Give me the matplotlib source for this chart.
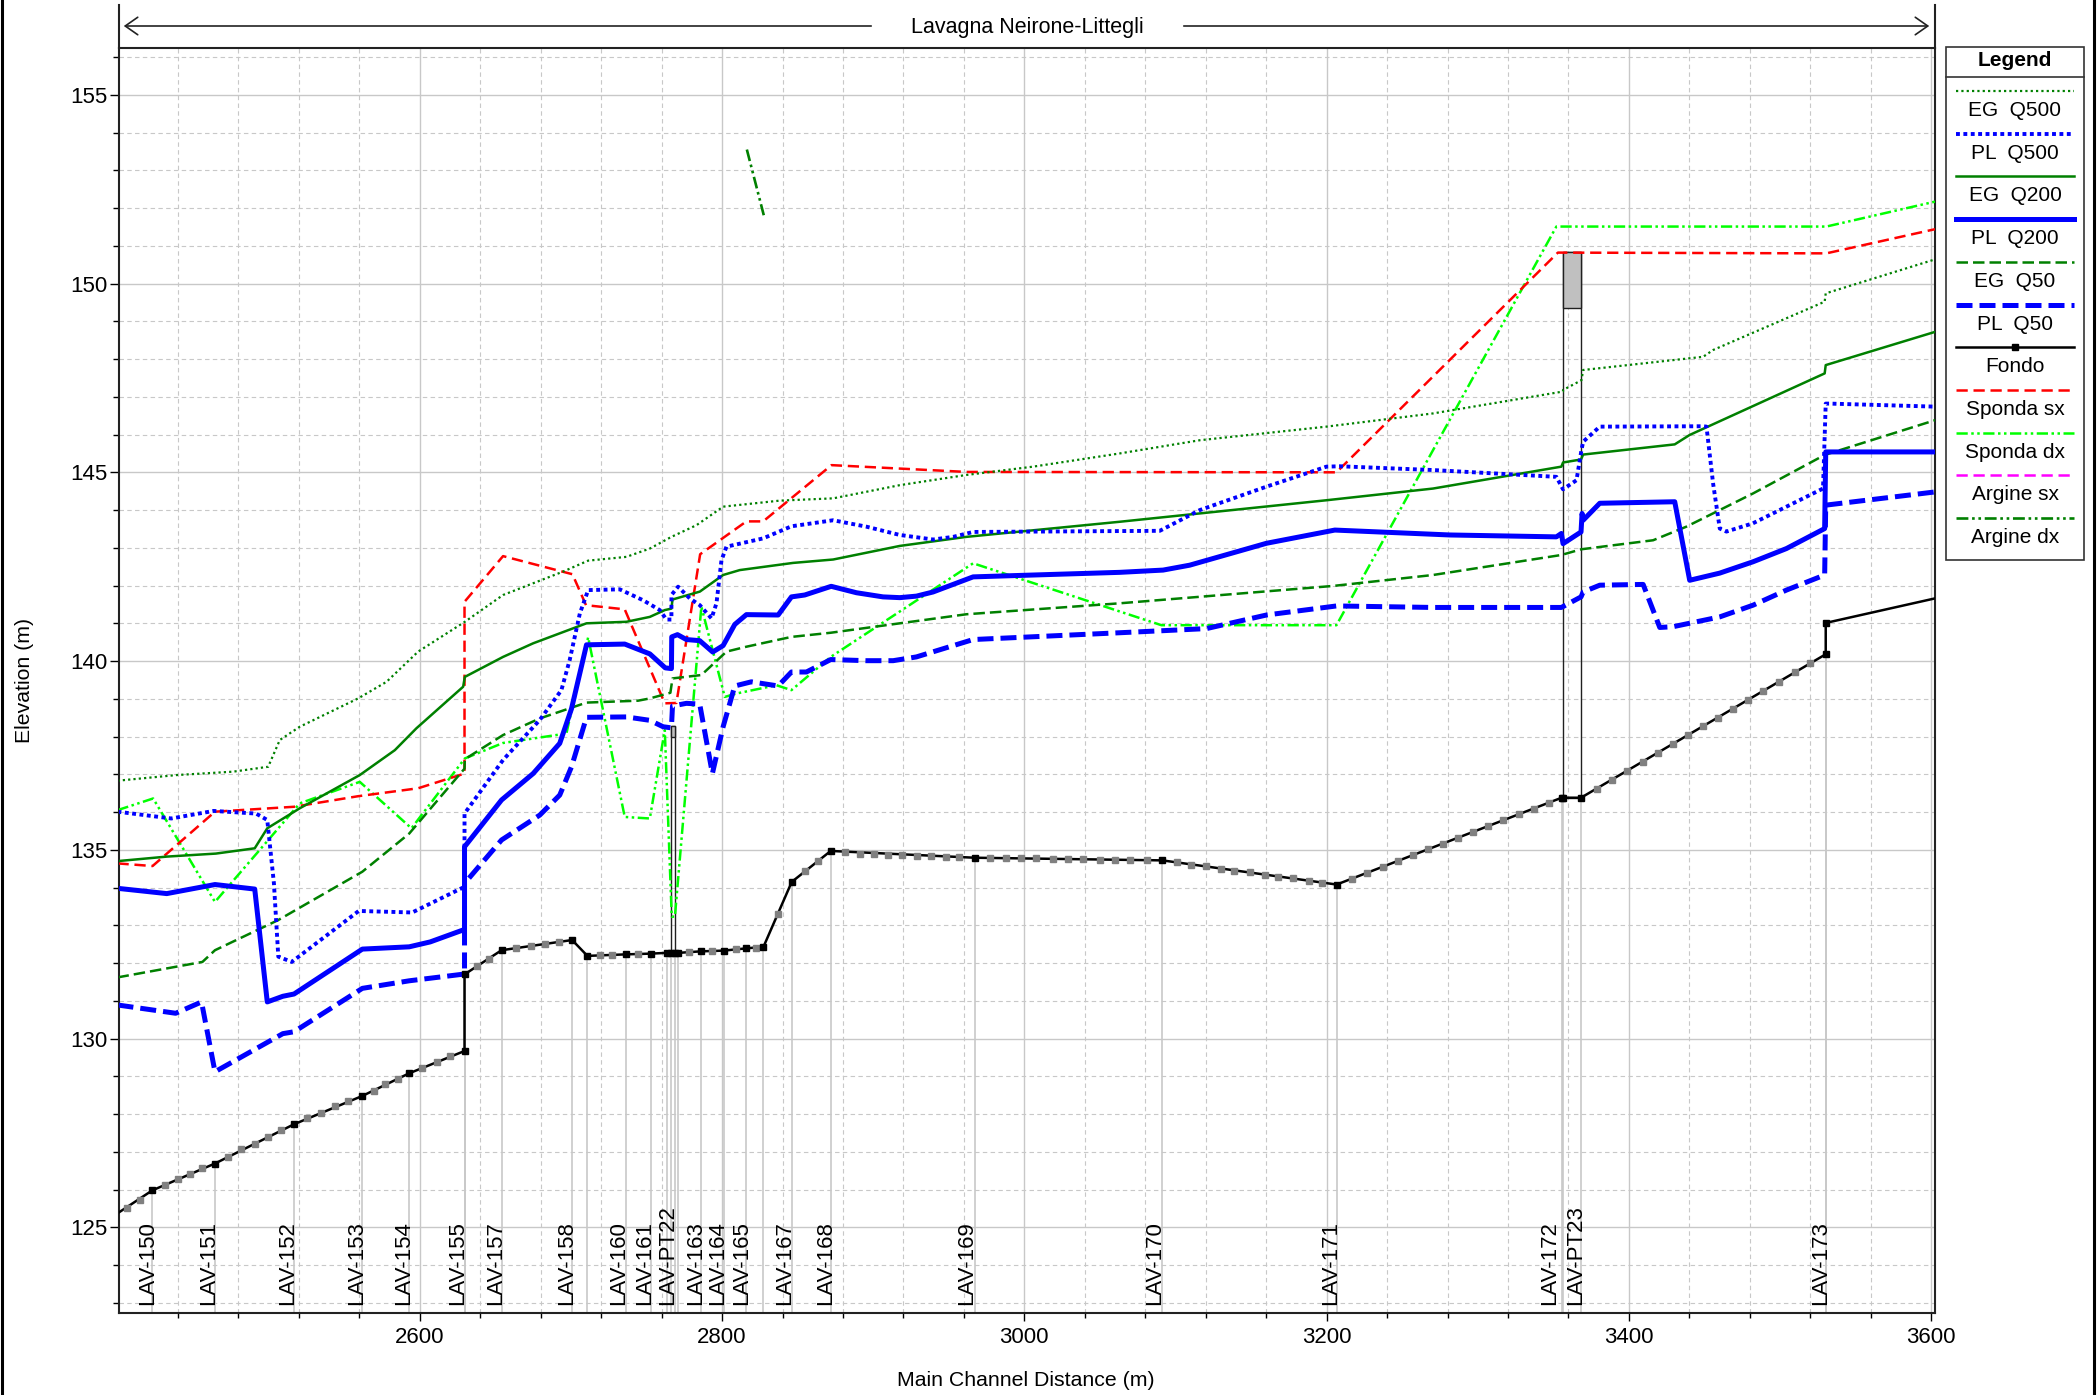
import matplotlib
matplotlib.use("Agg")
import matplotlib.pyplot as plt
from matplotlib.lines import Line2D
from matplotlib.patches import Rectangle, FancyArrowPatch
from matplotlib.ticker import MultipleLocator

plt.rcParams["font.family"] = ["Liberation Sans", "DejaVu Sans"]

W, H = 2100, 1395

# ---------- data (distance m, elevation m) ----------

eg500_x = [2400, 2439, 2476.5, 2499.7, 2507.4, 2520.6, 2559.2, 2578.0, 2598.9, 2629.8, 2655.1,
           2694.8, 2711.4, 2736.7, 2752.2, 2766.5, 2783.1, 2800.7, 2838.2, 2873.5, 2917.6,
           2961.7, 3005.8, 3063.1, 3116.1, 3199.9, 3270.4, 3356.4, 3356.4, 3368.6, 3369.7,
           3449.1, 3455.7, 3529.5, 3530.2, 3602.5]
eg500_y = [136.83, 136.98, 137.07, 137.20, 137.91, 138.26, 139.01, 139.45, 140.25, 141.04, 141.75,
           142.37, 142.66, 142.76, 142.98, 143.29, 143.60, 144.09, 144.25, 144.31, 144.66,
           144.93, 145.15, 145.50, 145.85, 146.21, 146.56, 147.14, 147.18, 147.44, 147.71,
           148.06, 148.24, 149.52, 149.74, 150.64]

pl500_x = [2400, 2435.6, 2463.6, 2491.7, 2499.1, 2503.5, 2506.4, 2515.3, 2559.6, 2595.0, 2629.6,
           2629.6, 2655.1, 2679.4, 2693.7, 2699.2, 2705.9, 2711.4, 2732.3, 2747.8, 2758.8,
           2763.2, 2766.5, 2766.5, 2770.9, 2778.6, 2785.3, 2793.0, 2796.3, 2799.6, 2802.9,
           2827.2, 2845.9, 2873.5, 2895.5, 2917.6, 2939.6, 2952.9, 2966.1, 3089.6, 3116.1,
           3160.2, 3199.9, 3208.7, 3270.4, 3352.0, 3356.4, 3365.3, 3368.6, 3369.7, 3380.7,
           3449.1, 3451.3, 3455.7, 3460.1, 3464.5, 3482.1, 3528.4, 3530.2, 3532.9, 3602.5]
pl500_y = [136.01, 135.83, 136.03, 135.96, 135.79, 134.11, 132.17, 132.03, 133.38, 133.34, 134.02,
           135.96, 137.38, 138.44, 139.23, 140.03, 141.26, 141.88, 141.90, 141.61, 141.35,
           141.10, 141.10, 141.75, 141.97, 141.66, 141.48, 141.13, 141.53, 142.67, 143.03,
           143.25, 143.57, 143.73, 143.56, 143.34, 143.22, 143.29, 143.42, 143.45, 144.00,
           144.62, 145.15, 145.16, 145.06, 144.88, 144.55, 144.79, 145.59, 145.81, 146.21,
           146.22, 146.21, 144.70, 143.51, 143.43, 143.65, 144.57, 146.82, 146.82, 146.74]

eg200_x = [2400, 2432.6, 2465.1, 2490.8, 2499.1, 2520.6, 2560.3, 2583.5, 2597.8, 2628.7, 2629.8,
           2655.1, 2675.0, 2710.3, 2736.7, 2752.2, 2762.1, 2766.5, 2767.2, 2785.3, 2800.7,
           2811.7, 2847.0, 2873.5, 2917.6, 2961.7, 3063.1, 3199.9, 3270.4, 3355.3, 3356.4,
           3368.3, 3369.7, 3430.3, 3440.2, 3529.5, 3530.2, 3602.5]
eg200_y = [134.70, 134.82, 134.90, 135.04, 135.57, 136.10, 136.98, 137.64, 138.22, 139.32, 139.58,
           140.11, 140.47, 141.00, 141.04, 141.17, 141.35, 141.39, 141.63, 141.84, 142.28,
           142.41, 142.60, 142.69, 143.05, 143.29, 143.69, 144.26, 144.57, 145.15, 145.26,
           145.34, 145.47, 145.74, 145.99, 147.62, 147.84, 148.72]

pl200_x = [2400, 2432.6, 2464.5, 2490.8, 2499.1, 2509.4, 2516.8, 2562.0, 2593.0, 2606.9, 2629.6,
           2629.6, 2654.1, 2675.0, 2692.6, 2700.4, 2710.3, 2735.6, 2752.2, 2762.4, 2766.5,
           2766.7, 2770.5, 2776.4, 2785.2, 2793.8, 2800.7, 2808.4, 2816.1, 2837.1, 2845.9,
           2854.7, 2872.2, 2888.9, 2906.5, 2917.6, 2928.6, 2939.6, 2966.1, 3063.1, 3091.8,
           3109.4, 3160.2, 3205.4, 3281.5, 3352.0, 3355.3, 3356.4, 3368.3, 3369.0, 3369.7,
           3380.7, 3430.3, 3440.2, 3460.1, 3482.1, 3504.2, 3529.5, 3530.2, 3602.5]
pl200_y = [133.98, 133.84, 134.08, 133.96, 130.97, 131.12, 131.18, 132.37, 132.43, 132.56, 132.89,
           135.08, 136.32, 137.02, 137.82, 138.74, 140.43, 140.45, 140.19, 139.82, 139.80,
           140.64, 140.70, 140.57, 140.54, 140.24, 140.41, 140.97, 141.23, 141.22, 141.70,
           141.75, 141.98, 141.81, 141.70, 141.68, 141.72, 141.83, 142.23, 142.35, 142.41,
           142.54, 143.12, 143.47, 143.34, 143.29, 143.38, 143.11, 143.42, 143.91, 143.73,
           144.18, 144.22, 142.14, 142.33, 142.63, 142.98, 143.51, 145.54, 145.54]

eg50_x = [2400, 2456.2, 2464.5, 2506.4, 2562.0, 2593.0, 2629.6, 2629.8, 2655.1, 2679.4, 2710.3,
          2744.4, 2752.2, 2765.8, 2767.2, 2786.3, 2802.9, 2816.1, 2845.9, 2871.9, 2917.6,
          2961.7, 3063.1, 3204.3, 3270.4, 3355.3, 3368.3, 3416.0, 3438.0, 3482.1, 3529.5, 3602.5]
eg50_y = [131.62, 132.03, 132.34, 133.14, 134.42, 135.43, 137.15, 137.40, 138.04, 138.48, 138.90,
          138.95, 139.01, 139.16, 139.54, 139.63, 140.25, 140.38, 140.64, 140.75, 141.00,
          141.24, 141.53, 141.99, 142.28, 142.81, 142.96, 143.20, 143.56, 144.44, 145.46, 146.38]

pl50_x = [2400, 2438.5, 2455.6, 2464.5, 2509.4, 2516.8, 2562.0, 2593.0, 2629.6, 2629.6, 2654.1,
          2679.4, 2692.6, 2700.4, 2710.3, 2736.7, 2752.2, 2761.0, 2766.5, 2767.2, 2776.4,
          2785.2, 2793.6, 2800.7, 2808.4, 2819.4, 2837.1, 2845.9, 2855.8, 2871.9, 2895.5,
          2913.2, 2928.6, 2966.1, 3063.1, 3120.5, 3160.2, 3206.5, 3270.4, 3355.3, 3368.3,
          3369.7, 3380.7, 3409.4, 3420.4, 3429.2, 3460.1, 3482.1, 3504.2, 3529.5, 3530.2, 3602.5]
pl50_y = [130.89, 130.67, 130.97, 129.12, 130.13, 130.18, 131.33, 131.53, 131.71, 134.11, 135.26,
          135.92, 136.45, 137.20, 138.51, 138.52, 138.43, 138.26, 138.23, 138.81, 138.88,
          138.86, 137.02, 138.26, 139.34, 139.45, 139.34, 139.71, 139.71, 140.04, 140.01,
          140.01, 140.11, 140.57, 140.75, 140.86, 141.22, 141.46, 141.42, 141.42, 141.70,
          141.83, 142.01, 142.03, 140.89, 140.91, 141.17, 141.48, 141.88, 142.28, 144.13, 144.48]

sponda_sx_x = [2400, 2423.2, 2464.5, 2516.8, 2559.2, 2598.9, 2629.6, 2629.6, 2655.1, 2701.0, 2710.0,
               2735.6, 2762.1, 2769.8, 2785.5, 2816.1, 2827.2, 2872.4, 2961.7, 3206.5, 3353.0,
               3530.6, 3602.5]
sponda_sx_y = [134.64, 134.57, 136.01, 136.14, 136.42, 136.63, 137.02, 141.57, 142.78, 142.30, 141.48,
               141.37, 138.88, 138.89, 142.83, 143.70, 143.70, 145.19, 145.01, 145.00, 150.82,
               150.80, 151.44]

sponda_dx_x = [2400, 2423.6, 2464.5, 2520.6, 2560.3, 2594.5, 2629.8, 2655.1, 2697.0, 2711.4, 2735.6,
               2752.2, 2762.1, 2766.7, 2768.8, 2786.3, 2801.8, 2809.5, 2836.0, 2845.9, 2871.9,
               2966.1, 3090.7, 3206.5, 3352.0, 3530.6, 3602.5]
sponda_dx_y = [136.05, 136.36, 133.62, 136.23, 136.80, 135.57, 137.42, 137.83, 138.08, 140.63, 135.87,
               135.83, 138.17, 133.23, 133.23, 141.44, 139.05, 139.14, 139.36, 139.23, 140.11,
               142.59, 140.95, 140.95, 151.51, 151.51, 152.17]

argine_dx_x = [2816.4, 2827.6]
argine_dx_y = [153.55, 151.81]

# bed: sections (black squares), line ends included
fondo_x = [2400, 2423.1, 2464.5, 2516.8, 2562.0, 2593.0, 2629.6, 2629.6, 2654.1, 2700.8, 2710.9,
           2736.3, 2752.8, 2763.5, 2766.5, 2769.0, 2771.0, 2785.9, 2801.3, 2816.1, 2827.4,
           2846.1, 2871.9, 2967.2, 3091.3, 3206.6, 3355.5, 3356.4, 3368.3, 3530.2, 3530.2, 3602.5]
fondo_y = [125.37, 125.98, 126.69, 127.73, 128.48, 129.08, 129.67, 131.70, 132.34, 132.61, 132.19,
           132.23, 132.25, 132.27, 132.27, 132.27, 132.27, 132.31, 132.33, 132.39, 132.43,
           134.15, 134.97, 134.79, 134.72, 134.08, 136.38, 136.38, 136.38, 140.18, 141.01, 141.66]

# interpolated sections on the bed (grey squares)
interp_x = [2406.6, 2414.9, 2431.7, 2440.0, 2448.3, 2456.2, 2473.1, 2481.9, 2490.8, 2499.6, 2508.2,
            2525.6, 2534.5, 2544.0, 2552.8, 2569.4, 2577.3, 2585.6, 2601.8, 2611.3, 2620.1,
            2637.9, 2646.1, 2663.6, 2673.3, 2682.8, 2691.9, 2719.1, 2727.5, 2744.4, 2778.2,
            2793.6, 2809.1, 2822.3, 2837.1, 2854.7, 2863.5, 2881.6, 2891.1, 2900.4, 2909.8,
            2919, 2929, 2938, 2948, 2957, 2977, 2988, 2998, 3008, 3019, 3029, 3039, 3050, 3060,
            3070, 3081, 3101, 3110, 3120, 3130, 3139, 3149, 3159, 3168, 3178, 3188, 3197,
            3217, 3227, 3237, 3247, 3257, 3267, 3277, 3287, 3297, 3307, 3317, 3327, 3337, 3347,
            3379, 3389, 3399, 3409, 3419, 3429, 3439, 3449, 3459, 3469, 3479, 3489, 3499, 3510, 3520]
interp_y = [125.50, 125.72, 126.12, 126.27, 126.41, 126.56, 126.85, 127.07, 127.22, 127.40, 127.57,
            127.89, 128.04, 128.21, 128.34, 128.61, 128.79, 128.93, 129.23, 129.38, 129.53,
            131.92, 132.12, 132.39, 132.46, 132.51, 132.55, 132.21, 132.21, 132.24, 132.28,
            132.33, 132.36, 132.41, 133.30, 134.43, 134.70, 134.93, 134.90, 134.89, 134.87,
            134.86, 134.84, 134.83, 134.81, 134.80, 134.78, 134.78, 134.77, 134.77, 134.76, 134.76,
            134.75, 134.74, 134.74, 134.73, 134.73, 134.67, 134.61, 134.56, 134.50, 134.45, 134.40,
            134.34, 134.29, 134.24, 134.18, 134.13,
            134.23, 134.39, 134.54, 134.70, 134.85, 135.01, 135.16, 135.32, 135.47, 135.63, 135.78,
            135.94, 136.09, 136.25,
            136.62, 136.85, 137.09, 137.33, 137.56, 137.80, 138.03, 138.27, 138.50, 138.74, 138.98,
            139.21, 139.45, 139.71, 139.94]

station_names = ["LAV-150", "LAV-151", "LAV-152", "LAV-153", "LAV-154", "LAV-155", "LAV-157",
                 "LAV-158", "LAV-160", "LAV-161", "LAV-PT22", "LAV-163", "LAV-164", "LAV-165",
                 "LAV-167", "LAV-168", "LAV-169", "LAV-170", "LAV-171", "LAV-172", "LAV-PT23",
                 "LAV-173"]
label_x = [2424.3, 2464.2, 2516.6, 2562.2, 2593.4, 2629.4, 2654.1, 2701.6, 2735.8, 2752.9, 2768.1,
           2786.4, 2801.5, 2816.8, 2845.9, 2872.5, 2966.3, 3090.4, 3206.5, 3351.8, 3368.6, 3531.3]

# bridges: upstream face, downstream face, deck top, low chord, bed
bridge_x0 = [2766.5, 3356.4]
bridge_x1 = [2769.0, 3368.3]
bridge_top = [138.28, 150.83]
bridge_low = [137.98, 149.34]
bridge_bed = [132.27, 136.38]

reach_name = "Lavagna Neirone-Littegli"

# ---------- styles ----------
GREEN = "#008000"
BLUE = "#0000ff"
styles = {
    "EG  Q500": dict(color=GREEN, lw=1.6, ls=(0, (1, 1.4))),
    "PL  Q500": dict(color=BLUE, lw=2.8, ls=(0, (1, 0.9))),
    "EG  Q200": dict(color=GREEN, lw=1.8, ls="-"),
    "PL  Q200": dict(color=BLUE, lw=3.6, ls="-"),
    "EG  Q50": dict(color=GREEN, lw=1.8, ls=(0, (4.6, 2.0))),
    "PL  Q50": dict(color=BLUE, lw=3.6, ls=(0, (3.2, 1.4))),
    "Fondo": dict(color="black", lw=1.8, ls="-"),
    "Sponda sx": dict(color="#ff0000", lw=1.8, ls=(0, (4.5, 2.3))),
    "Sponda dx": dict(color="#00ff00", lw=1.8, ls=(0, (4.5, 1.4, 1, 1.4, 1, 1.4))),
    "Argine sx": dict(color="#ff00ff", lw=1.8, ls=(0, (4.5, 2.3))),
    "Argine dx": dict(color=GREEN, lw=1.9, ls=(0, (4.5, 1.4, 1, 1.4, 1, 1.4))),
}


def px(x, y):
    # pixel (from top-left) -> figure fraction
    return x / W, 1 - y / H


fig = plt.figure(figsize=(W / 100, H / 100), dpi=100)
fig.patch.set_facecolor("white")
ax = fig.add_axes([119 / W, 1 - 1313 / H, (1935 - 119) / W, (1313 - 48) / H])

y0, y1 = 122.73, 156.24
ax.set_xlim(2401, 3602.5)
ax.set_ylim(y0, y1)

ax.xaxis.set_major_locator(MultipleLocator(200))
ax.xaxis.set_minor_locator(MultipleLocator(40))
ax.yaxis.set_major_locator(MultipleLocator(5))
ax.yaxis.set_minor_locator(MultipleLocator(1))
ax.set_axisbelow(True)
ax.grid(which="major", color="#c8c8c8", lw=1.0, ls="-", zorder=0)
ax.grid(which="minor", color="#c8c8c8", lw=0.8, ls=(0, (4, 3)), zorder=0)

ax.tick_params(axis="y", which="major", length=6.5, width=1, labelsize=16, pad=1.5)
ax.tick_params(axis="y", which="minor", length=4.3, width=1)
ax.tick_params(axis="x", which="major", length=5.8, width=1, labelsize=16, pad=4.0)
ax.tick_params(axis="x", which="minor", length=3.6, width=1)
for sp in ax.spines.values():
    sp.set_linewidth(1.5)
    sp.set_color("#222222")

# section lines from the bottom up to the bed
ax.vlines(fondo_x[1:-1], y0, fondo_y[1:-1], color="#c8c8c8", lw=1.2, zorder=1)

# bridges
for bx0, bx1, bt, bl, bb in zip(bridge_x0, bridge_x1, bridge_top, bridge_low, bridge_bed):
    ax.add_patch(Rectangle((bx0, bb), bx1 - bx0, bt - bb, fill=False, ec="#202020", lw=1.0, zorder=2))
    ax.add_patch(Rectangle((bx0, bl), bx1 - bx0, bt - bl, fc="#c0c0c0", ec="#202020", lw=1.0, zorder=2))

series = [
    ("Argine dx", argine_dx_x, argine_dx_y),
    ("Sponda dx", sponda_dx_x, sponda_dx_y),
    ("Sponda sx", sponda_sx_x, sponda_sx_y),
    ("PL  Q50", pl50_x, pl50_y),
    ("EG  Q50", eg50_x, eg50_y),
    ("PL  Q200", pl200_x, pl200_y),
    ("EG  Q200", eg200_x, eg200_y),
    ("PL  Q500", pl500_x, pl500_y),
    ("EG  Q500", eg500_x, eg500_y),
]
for name, xs, ys in series:
    ax.plot(xs, ys, zorder=3, **styles[name])

ax.plot(fondo_x, fondo_y, zorder=4, **styles["Fondo"])
ax.plot(interp_x, interp_y, ls="none", marker="s", ms=4.3, mfc="#808080", mec="#808080", zorder=5)
ax.plot(fondo_x[1:-1], fondo_y[1:-1], ls="none", marker="s", ms=4.5, mfc="black", mec="black", zorder=6)

# station labels
for name, lx in zip(station_names, label_x):
    ax.annotate(name, xy=(lx, y0), xytext=(3, 6), textcoords="offset points",
                rotation=90, ha="right", va="bottom", fontsize=16, zorder=7)

# axis titles
fig.text(*px(1026, 1381), "Main Channel Distance (m)", ha="center", va="center", fontsize=15.3)
fig.text(*px(25, 680), "Elevation (m)", ha="center", va="center", rotation=90, fontsize=15.3)

# reach header
fig.lines.append(Line2D([119 / W, 119 / W], [1 - 5 / H, 1 - 48 / H], transform=fig.transFigure,
                        color="#222222", lw=1.5))
fig.lines.append(Line2D([1935 / W, 1935 / W], [1 - 5 / H, 1 - 48 / H], transform=fig.transFigure,
                        color="#222222", lw=1.5))
fig.text(*px(1027, 27), reach_name, ha="center", va="center", fontsize=15.5)
for xa, xb in [(874, 121), (1181, 1932)]:
    fig.patches.append(FancyArrowPatch(px(xa, 26), px(xb, 26), transform=fig.transFigure,
                                       arrowstyle="->,head_length=0.5,head_width=0.35",
                                       mutation_scale=18, color="#222222", lw=1.2))

# outer frame
for xf in (1.5, 2093.5):
    fig.lines.append(Line2D([xf / W, xf / W], [0, 1], transform=fig.transFigure, color="black", lw=2.2))

# legend box
fig.patches.append(Rectangle(px(1946, 560), 138 / W, (560 - 47) / H, transform=fig.transFigure,
                             fill=False, ec="#333333", lw=1.2))
fig.lines.append(Line2D([1946 / W, 2084 / W], [1 - 77 / H] * 2, transform=fig.transFigure,
                        color="#333333", lw=1.2))
fig.text(*px(2015, 61), "Legend", ha="center", va="center", fontsize=15, fontweight="bold")
legend_names = ["EG  Q500", "PL  Q500", "EG  Q200", "PL  Q200", "EG  Q50", "PL  Q50", "Fondo",
                "Sponda sx", "Sponda dx", "Argine sx", "Argine dx"]
for i, name in enumerate(legend_names):
    ly = 91 + 42.7 * i
    st = dict(styles[name])
    fig.lines.append(Line2D([1956 / W, 2074 / W], [1 - ly / H] * 2, transform=fig.transFigure, **st))
    if name == "Fondo":
        fig.lines.append(Line2D([2015 / W], [1 - ly / H], transform=fig.transFigure, ls="none",
                                marker="s", ms=4.5, color="black"))
    fig.text(*px(2015, ly + 19.5), name, ha="center", va="center", fontsize=15)

fig.savefig("out.png", dpi=100)
